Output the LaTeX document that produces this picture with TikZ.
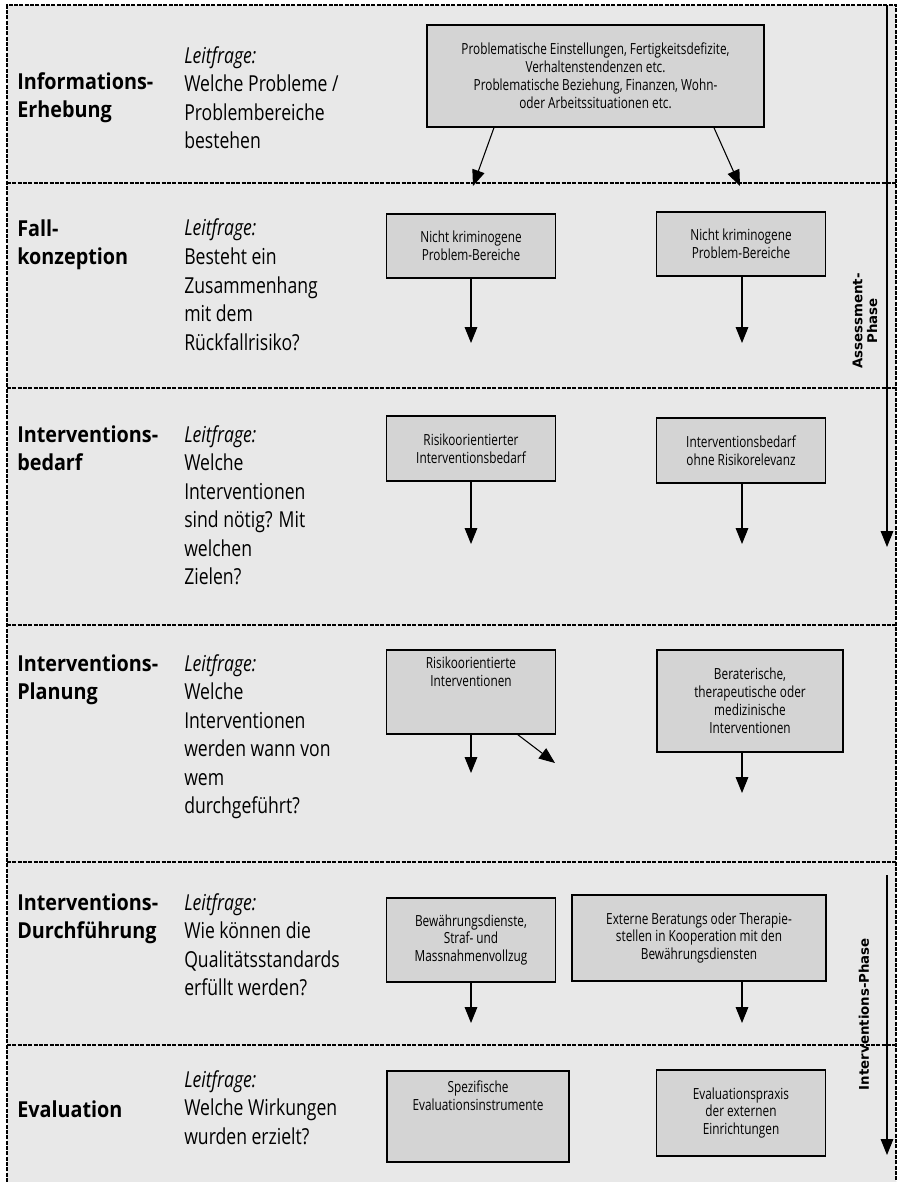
\documentclass[tikz,border=0pt]{standalone}
\usepackage{fontspec}
\setmainfont{Open Sans}[FakeStretch=0.8]
\newfontfamily\headfont{Open Sans}[FakeStretch=0.9]
\newfontfamily\boxfont{Open Sans}[FakeStretch=0.77]
\newfontfamily\phasefont{DejaVu Sans}
\usetikzlibrary{arrows.meta,calc}
\definecolor{bandgrey}{HTML}{E8E8E8}
\definecolor{boxgrey}{HTML}{D4D4D4}
\begin{document}
\begin{tikzpicture}[x=.75pt,y=-.75pt,
                    rule/.style={line width=.8pt,dash pattern=on 3pt off 1pt},
                    block/.style={draw,line width=1.1pt,fill=boxgrey,align=center,inner sep=0pt,
                                  font=\boxfont\fontsize{11.5}{13.4}\selectfont},
                    arr/.style={line width=.8pt,-{Triangle[width=9.5pt,length=12pt]}},
                    head/.style={anchor=base west,inner sep=0pt,align=left,
                                 font=\headfont\bfseries\fontsize{16.5}{21}\selectfont},
                    quest/.style={anchor=base west,inner sep=0pt,align=left,
                                  font=\fontsize{16.5}{21.4}\selectfont},
                    phase/.style={rotate=90,align=center,inner sep=0pt,
                                  font=\phasefont\bfseries\fontsize{10}{11}\selectfont}]
 \useasboundingbox (0,0) rectangle (898,1182);
 \fill[bandgrey] (7,5) rectangle (896,1182);
 \draw[rule] (7,1182) -- (7,5) -- (896,5) -- (896,1182);
 \foreach \y in {183,388,625,862,1045} \draw[rule] (7,\y) -- (896,\y);
 \node[head] (t1) at (17,117) {Informations-\\Erhebung};
 \node[quest] (q1) at (184,148.6) {\textit{Leitfrage:}\\Welche Probleme /\\Problembereiche\\bestehen};
 \node[head] (t2) at (17,264) {Fall-\\konzeption};
 \node[quest] (q2) at (184,350.1) {\textit{Leitfrage:}\\Besteht ein\\Zusammenhang\\mit dem\\Rückfallrisiko?};
 \node[head] (t3) at (17,470) {Interventions-\\bedarf};
 \node[quest] (q3) at (184,584.7) {\textit{Leitfrage:}\\Welche\\Interventionen\\sind nötig? Mit\\welchen\\Zielen?};
 \node[head] (t4) at (17,699) {Interventions-\\Planung};
 \node[quest] (q4) at (184,813.7) {\textit{Leitfrage:}\\Welche\\Interventionen\\werden wann von\\wem\\durchgeführt?};
 \node[head] (t5) at (17,938) {Interventions-\\Durchführung};
 \node[quest] (q5) at (184,995.6) {\textit{Leitfrage:}\\Wie können die\\Qualitätsstandards\\erfüllt werden?};
 \node[head] (t6) at (17,1117) {Evaluation};
 \node[quest] (q6) at (184,1144.1) {\textit{Leitfrage:}\\Welche Wirkungen\\wurden erzielt?};
 \node[block,minimum width=252.75pt,minimum height=76.5pt] (top) at (595.5,76)
   {Problematische Einstellungen, Fertigkeitsdefizite,\\Verhaltenstendenzen etc.\\Problematische Beziehung, Finanzen, Wohn-\\oder Arbeitssituationen etc.};
 \node[block,minimum width=126.75pt,minimum height=48pt] (fl) at (471,246) {Nicht kriminogene\\Problem-Bereiche};
 \node[block,minimum width=126.75pt,minimum height=48pt] (fr) at (741,244) {Nicht kriminogene\\Problem-Bereiche};
 \node[block,minimum width=126.75pt,minimum height=48.75pt] (bl) at (471,448.5) {Risikoorientierter\\Interventionsbedarf};
 \node[block,minimum width=126.75pt,minimum height=48.75pt] (br) at (741,450.5) {Interventionsbedarf\\ohne Risikorelevanz};
 \node[block,minimum width=126.75pt,minimum height=63pt] (pl) at (471,692) {Risikoorientierte\\Interventionen\\\strut\\\strut};
 \node[block,minimum width=139.5pt,minimum height=76.5pt] (pr) at (750,701) {Beraterische,\\therapeutische oder\\medizinische\\Interventionen};
 \node[block,minimum width=126.75pt,minimum height=63pt] (dl) at (471,940) {Bewährungsdienste,\\Straf- und\\Massnahmenvollzug};
 \node[block,minimum width=190.5pt,minimum height=64.5pt] (dr) at (699,938) {Externe Beratungs oder Therapie-\\stellen in Kooperation mit den\\Bewährungsdiensten};
 \node[block,minimum width=136.5pt,minimum height=68.25pt] (el) at (478,1116.5) {Spezifische\\Evaluationsinstrumente\\\strut\\\strut};
 \node[block,minimum width=126.75pt,minimum height=64.5pt] (er) at (741,1113) {Evaluationspraxis\\der externen\\Einrichtungen};
 \coordinate (e1l) at (473,186);
 \coordinate (e1r) at (740,186);
 \draw[arr] ($(top.south west)!.2!(top.south east)$) -- (e1l);
 \draw[arr] ($(top.south west)!.85!(top.south east)$) -- (e1r);
 \coordinate (e2l) at (471,343);
 \coordinate (e2r) at (742,343);
 \draw[arr] (fl.south -| e2l) -- (e2l);
 \draw[arr] (fr.south -| e2r) -- (e2r);
 \coordinate (e3l) at (471,544);
 \coordinate (e3r) at (742,544);
 \draw[arr] (bl.south -| e3l) -- (e3l);
 \draw[arr] (br.south -| e3r) -- (e3r);
 \coordinate (e4l) at (471,773);
 \coordinate (e4d) at (555,763);
 \coordinate (e4r) at (742,793);
 \draw[arr] (pl.south -| e4l) -- (e4l);
 \draw[arr] ($(pl.south west)!.775!(pl.south east)$) -- (e4d);
 \draw[arr] (pr.south -| e4r) -- (e4r);
 \coordinate (e5l) at (471,1023);
 \coordinate (e5r) at (742,1023);
 \draw[arr] (dl.south -| e5l) -- (e5l);
 \draw[arr] (dr.south -| e5r) -- (e5r);
 \coordinate (as) at (887,5);
 \coordinate (ae) at (887,547);
 \draw[arr] (as) -- (ae);
 \node[phase] (pa) at (865,321) {Assessment-\\Phase};
 \coordinate (is) at (887,875);
 \coordinate (ie) at (887,1155);
 \draw[arr] (is) -- (ie);
 \node[phase] (pi) at (864,1014) {Interventions-Phase};
\end{tikzpicture}
\end{document}
